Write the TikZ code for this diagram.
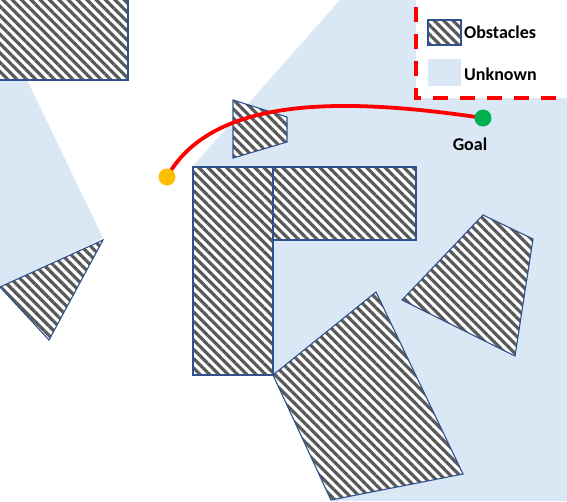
\documentclass[tikz,border=0pt]{standalone}
\usepackage{fontspec}
\setmainfont{Carlito}
\usetikzlibrary{patterns.meta}
\definecolor{unk}{HTML}{DAE7F4}
\definecolor{edgec}{HTML}{2F528F}
\definecolor{hatchc}{HTML}{595959}
\definecolor{startc}{HTML}{FFC000}
\definecolor{goalc}{HTML}{00B050}
\tikzset{
  obst/.style={draw=edgec, line width=1.1pt, line join=miter,
    preaction={fill=white},
    pattern={Lines[angle=-45,distance=6.6pt,line width=3.2pt]}, pattern color=hatchc},
  unknown/.style={fill=unk, draw=none},
  legendbox/.style={fill=white, draw=red, line width=3.5pt, dash pattern=on 15pt off 12pt},
  lbl/.style={font=\bfseries\fontsize{18}{20}\selectfont, text=black, inner sep=1pt},
  dot/.style={circle, minimum size=17pt, inner sep=0pt, draw=none},
  pathc/.style={draw=red, line width=3.8pt}
}
\begin{document}
\begin{tikzpicture}[x=1pt,y=-1pt]
\useasboundingbox (0,0) rectangle (567,501);
\clip (0,0) rectangle (567,501);
\fill[white] (0,0) rectangle (567,501);
% unknown regions
\path[unknown] (0,80) -- (27,80) -- (103,238) -- (0,287) -- cycle;
\path[unknown] (340,0) -- (567,0) -- (567,501) -- (330,501) -- (273,375) -- (193,166) -- cycle;
% obstacles
\draw[obst] (-5,-5) rectangle (128,80);
\draw[obst] (233,100) -- (287,117) -- (287,142) -- (233,158) -- cycle;
\draw[obst] (193,167) rectangle (273,375);
\draw[obst] (273,167) rectangle (416,240);
\draw[obst] (103,240) -- (0,287) -- (49,340) -- cycle;
\draw[obst] (376,292) -- (273,375) -- (331,500) -- (463,474) -- cycle;
\draw[obst] (483,215) -- (533,239) -- (515,356) -- (402,300) -- cycle;
% legend
\draw[legendbox] (416,-20) rectangle (590,98);
\draw[obst] (428,20) rectangle (461,45);
\path[unknown] (428,59) rectangle (461,86);
\node[lbl, anchor=west] (lobs) at (463,32) {Obstacles};
\node[lbl, anchor=west] (lunk) at (463,74) {Unknown};
% path
\coordinate (s) at (167,177);
\coordinate (g) at (483,118);
\draw[pathc] (s) .. controls (210,100) and (330,95) .. (g);
\node[dot, fill=startc] (start) at (s) {};
\node[dot, fill=goalc] (goal) at (g) {};
\node[lbl] (goallbl) at (470,144) {Goal};
\end{tikzpicture}
\end{document}
